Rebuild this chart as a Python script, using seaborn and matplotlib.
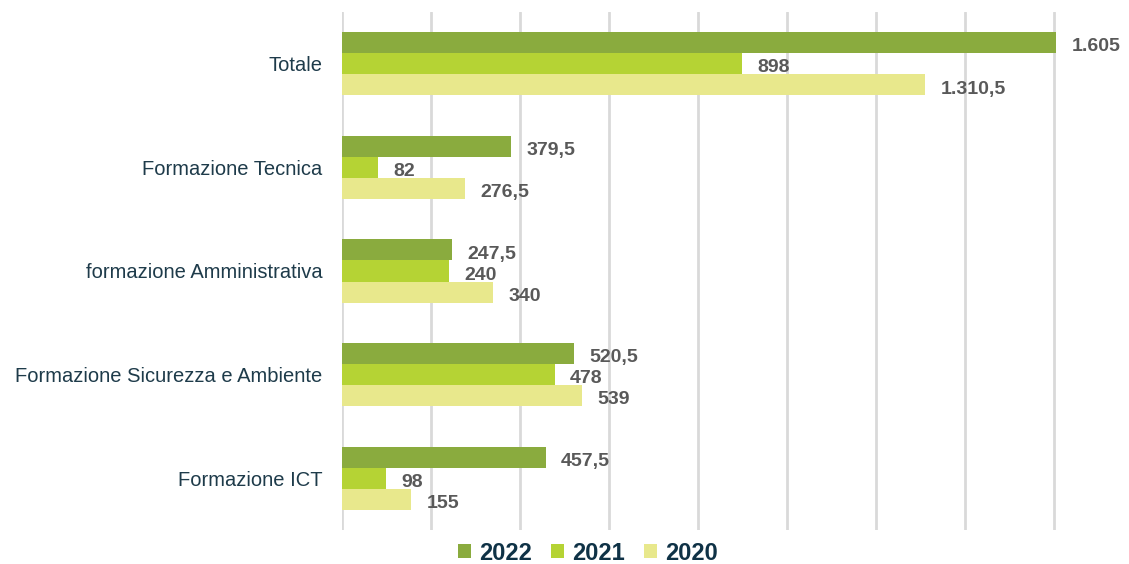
import matplotlib
matplotlib.use("Agg")
import matplotlib.pyplot as plt
import seaborn as sns
import pandas as pd
from matplotlib.patches import Patch

categories = ["Totale", "Formazione Tecnica", "formazione Amministrativa",
              "Formazione Sicurezza e Ambiente", "Formazione ICT"]
years = ["2022", "2021", "2020"]
v2022 = [1605, 379.5, 247.5, 520.5, 457.5]
v2021 = [898, 82, 240, 478, 98]
v2020 = [1310.5, 276.5, 340, 539, 155]
colors = ["#8AAB3E", "#B5D334", "#E8E88C"]

rows = []
for y, vals in zip(years, [v2022, v2021, v2020]):
    for c, v in zip(categories, vals):
        rows.append({"cat": c, "year": y, "val": v})
df = pd.DataFrame(rows)

sns.set_theme(style="white")
plt.rcParams["font.family"] = ["Liberation Sans", "DejaVu Sans"]

fig = plt.figure(figsize=(11.29, 5.64), dpi=100)
ax = fig.add_axes([342/1129, 1 - 530/564, (1143 - 342)/1129, 518/564])

sns.barplot(data=df, y="cat", x="val", hue="year", hue_order=years,
            order=categories, palette=colors, orient="h", width=0.61,
            saturation=1, linewidth=0, edgecolor="none", ax=ax, legend=False)

ax.set_xlim(0, 1800)
ax.set_ylim(4.5, -0.5)
ax.set_xticks(range(0, 1801, 200))
ax.set_xticklabels([])
ax.grid(axis="x", color="#D9D9D9", linewidth=2)
ax.set_axisbelow(True)
for s in ax.spines.values():
    s.set_visible(False)
ax.tick_params(axis="y", length=0, pad=14, labelsize=14.5, labelcolor="#1E3B4A")
ax.tick_params(axis="x", length=0)
ax.set_xlabel("")
ax.set_ylabel("")

def fmt(v):
    if v == int(v):
        return f"{int(v):,}".replace(",", ".")
    ip = int(v)
    return f"{ip:,}".replace(",", ".") + "," + str(v).split(".")[1]

for cont in ax.containers:
    for b in cont:
        w = b.get_width()
        yc = b.get_y() + b.get_height() / 2
        ax.annotate(fmt(w), xy=(w, yc), xytext=(11, -3), textcoords="offset points",
                    ha="left", va="center", fontsize=14, fontweight="bold",
                    color="#595959", annotation_clip=False)

handles = [Patch(facecolor=c, edgecolor="none") for c in colors]
leg = fig.legend(handles, years, loc="center", bbox_to_anchor=(588/1129, 1 - 553/564),
                 ncol=3, frameon=False, handlelength=0.55, handleheight=0.55,
                 handletextpad=0.35, columnspacing=0.8,
                 prop={"size": 17, "weight": "bold", "family": "Liberation Sans"})
for t in leg.get_texts():
    t.set_color("#0F3246")

fig.savefig("out.png", dpi=100)
